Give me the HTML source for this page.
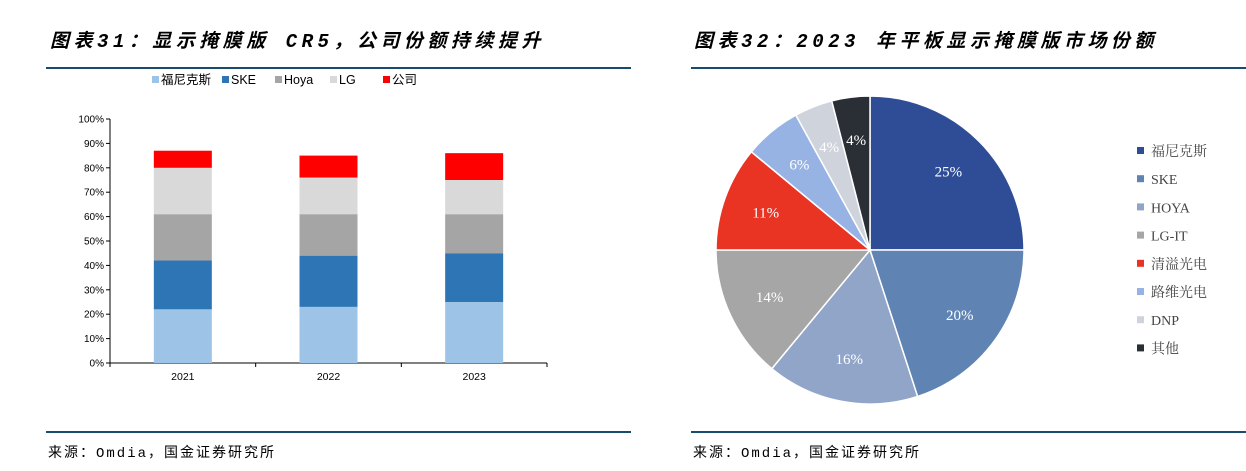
<!DOCTYPE html>
<html><head><meta charset="utf-8"><style>
body{margin:0;width:1246px;height:471px;background:#fff;position:relative;overflow:hidden;font-family:"Liberation Sans","Noto Sans CJK SC",sans-serif}
.t{position:absolute;font-size:19px;font-weight:bold;font-style:italic;font-family:"Liberation Mono","Noto Sans CJK SC",sans-serif;color:#000;white-space:nowrap;letter-spacing:4.5px}
.ln{position:absolute;height:2px;background:#164d6e}
.src{position:absolute;font-size:14px;font-family:"Liberation Mono","Noto Sans CJK SC",monospace;white-space:nowrap;letter-spacing:2px}
</style></head><body>
<div class="t" style="left:50px;top:26px">图表31：显示掩膜版 CR5，公司份额持续提升</div>
<div class="t" style="left:694px;top:26px">图表32：2023 年平板显示掩膜版市场份额</div>
<div class="ln" style="left:46px;width:585px;top:67px"></div>
<div class="ln" style="left:691px;width:555px;top:67px"></div>
<div class="ln" style="left:46px;width:585px;top:431px"></div>
<div class="ln" style="left:691px;width:555px;top:431px"></div>
<div class="src" style="left:48px;top:442px">来源：Omdia，国金证券研究所</div>
<div class="src" style="left:693px;top:442px">来源：Omdia，国金证券研究所</div>
<svg id="bar" width="640" height="430" style="position:absolute;left:0;top:0" font-family="Liberation Sans, Noto Sans CJK SC, sans-serif"></svg>
<svg id="pie" width="1246" height="430" style="position:absolute;left:0;top:0" font-family="Liberation Serif, Noto Serif CJK SC, serif"></svg>
<script>
const barCats=["2021","2022","2023"];
const barSeries=["福尼克斯","SKE","Hoya","LG","公司"];
const barColors=["#9dc3e6","#2e75b6","#a5a5a5","#d9d9d9","#ff0000"];
const sFotonics=[22,23,25];
const sSKE=[20,21,20];
const sHoya=[19,17,16];
const sLG=[19,15,14];
const sCompany=[7,9,11];
const yTicks=[0,10,20,30,40,50,60,70,80,90,100];
const pieLabels=["福尼克斯","SKE","HOYA","LG-IT","清溢光电","路维光电","DNP","其他"];
const pieValues=[25,20,16,14,11,6,4,4];
const pieColors=["#2e4d96","#5f84b3","#91a5c9","#a6a6a6","#e93323","#97b3e3","#cfd3dc","#2a2e35"];
const NS="http://www.w3.org/2000/svg";
function mk(p,tag,a){const e=document.createElementNS(NS,tag);for(const k in a)e.setAttribute(k,a[k]);p.appendChild(e);return e;}
const bs=document.getElementById('bar');
const x0=110,x1=547,yb=363,yt=119;
const ys=v=>yb-(v/100)*(yb-yt);
const cw=(x1-x0)/barCats.length, bw=58;
const xc=i=>x0+cw*(i+0.5);
const all=[sFotonics,sSKE,sHoya,sLG,sCompany];
yTicks.forEach(t=>{
 const tl=mk(bs,'text',{x:x0-6,y:ys(t)+3.5,'text-anchor':'end','font-size':10,fill:'#000'});
 tl.textContent=t+'%';
 
 
 mk(bs,'line',{x1:x0-4,x2:x0,y1:ys(t),y2:ys(t),stroke:'#000'});
});
mk(bs,'line',{x1:x0,x2:x0,y1:yt,y2:yb,stroke:'#000'});
mk(bs,'line',{x1:x0,x2:x1,y1:yb,y2:yb,stroke:'#000'});
for(let i=0;i<=barCats.length;i++)mk(bs,'line',{x1:x0+cw*i,x2:x0+cw*i,y1:yb,y2:yb+4,stroke:'#000'});
barCats.forEach((c,i)=>{
 let acc=0;
 all.forEach((s,k)=>{
  const r=mk(bs,'rect',{x:xc(i)-bw/2,y:ys(acc+s[i]),width:bw,height:ys(acc)-ys(acc+s[i]),fill:barColors[k]});
  
  
  acc+=s[i];
 });
 const l=mk(bs,'text',{x:xc(i),y:yb+17,'text-anchor':'middle','font-size':10.5});
 l.textContent=c;
 
 
});
const legX=[152,222,275,330,383];
barSeries.forEach((s,k)=>{
 mk(bs,'rect',{x:legX[k],y:76,width:7,height:7,fill:barColors[k]});
 const t=mk(bs,'text',{x:legX[k]+9,y:84,'font-size':12.5});
 t.textContent=s;
 
 
});
const ps=document.getElementById('pie');
const cx=870,cy=250,R=154;
const tot=pieValues.reduce((a,b)=>a+b,0);
let a0=-Math.PI/2;
pieValues.forEach((v,i)=>{
 const a1=a0+v/tot*2*Math.PI;
 const large=(a1-a0)>Math.PI?1:0;
 const p=mk(ps,'path',{d:`M${cx},${cy}L${cx+R*Math.cos(a0)},${cy+R*Math.sin(a0)}A${R},${R} 0 ${large} 1 ${cx+R*Math.cos(a1)},${cy+R*Math.sin(a1)}Z`,fill:pieColors[i],stroke:'#fff','stroke-width':1.5});
 
 
 const am=(a0+a1)/2, rl=R*0.72;
 const t=mk(ps,'text',{x:cx+rl*Math.cos(am),y:cy+rl*Math.sin(am)+5,'text-anchor':'middle','font-size':15,fill:'#fff'});
 t.textContent=v+'%';
 
 
 a0=a1;
});
pieLabels.forEach((l,i)=>{
 const y=151+i*28.2;
 mk(ps,'rect',{x:1137,y:y-4,width:7,height:7,fill:pieColors[i]});
 const t=mk(ps,'text',{x:1151,y:y+5,'font-size':14,fill:'#444'});
 t.textContent=l;
 
 
});
</script>
</body></html>
